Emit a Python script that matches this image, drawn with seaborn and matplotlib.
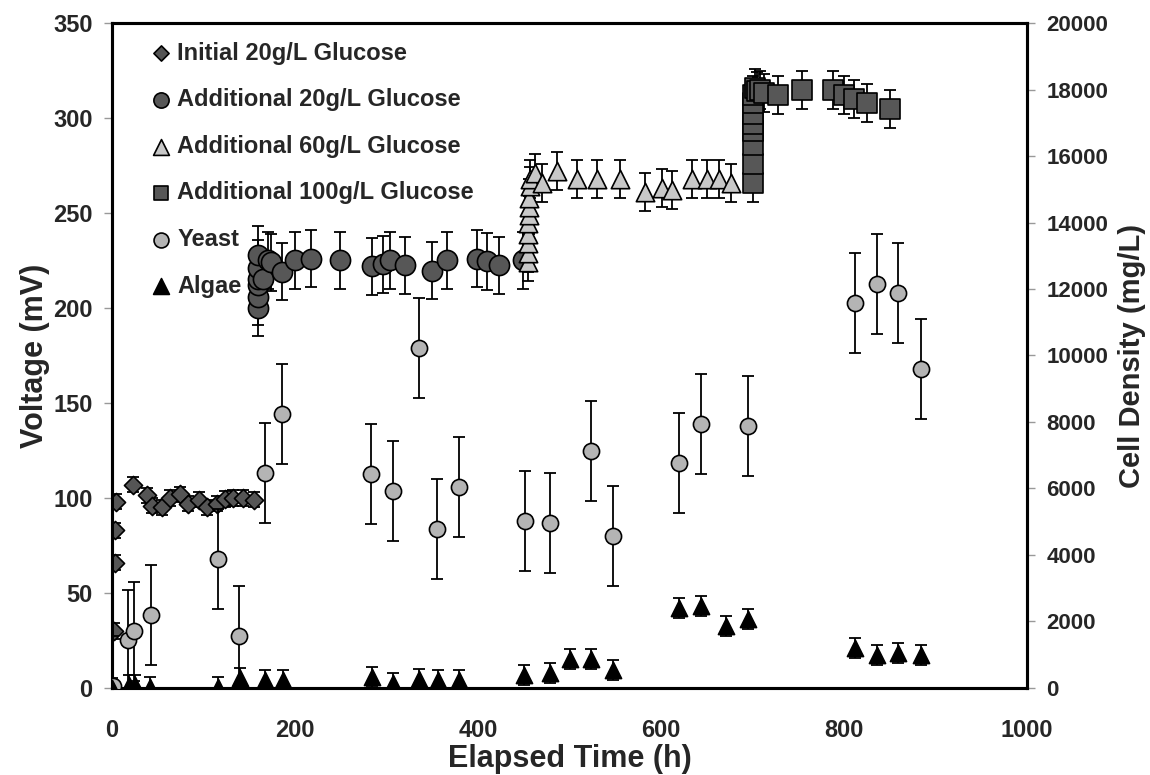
import numpy as np
import seaborn as sns
import matplotlib.pyplot as plt

# voltage series (mV) vs elapsed time (h)
init_t = [2, 3, 3, 4, 23, 38, 44, 55, 63, 74, 83, 95, 104, 115, 123, 132, 143, 155]
init_v = [30, 66, 83, 98, 107, 101.5, 96, 95, 100, 102, 97, 99, 95, 97, 99.5, 100, 100, 99]
init_err = 4

add20_t = [160, 160, 160, 160, 160, 160, 165, 170, 174, 186, 200, 217, 249, 284, 296, 304,
           320, 350, 366, 399, 410, 423, 449]
add20_v = [200, 206, 212, 215, 221, 228, 215, 225, 224, 219, 225, 226, 225, 222, 223, 225,
           222.5, 219.5, 225, 226, 224.5, 222.5, 225]
add20_err = 15

add60_t = [455, 455, 455, 455, 455, 456, 456, 456, 457, 457, 462, 470, 486, 508, 530, 555,
           582, 601, 612, 634, 650, 663, 676]
add60_v = [224, 229, 234, 239, 245, 249, 253, 258, 264, 268, 271, 266, 272, 268, 268, 268,
           261, 263, 262, 268, 268, 268, 266]
add60_err = 10

add100_t = [701, 701, 701, 701, 701, 701, 701, 701, 703, 705, 708, 712, 728, 754, 788, 800,
            811, 825, 850]
add100_v = [266, 276, 286, 293, 297, 302, 308, 312, 316, 314, 315, 313, 312, 315, 315, 312,
            310, 308, 305]
add100_err = 10

# cell density (mg/L)
yeast_t = [1, 17, 24, 43, 116, 139, 167, 186, 283, 307, 335, 355, 379, 451, 479, 523, 548,
           620, 644, 695, 812, 836, 859, 884]
yeast_d = [60, 1450, 1700, 2200, 3880, 1560, 6470, 8250, 6440, 5930, 10230, 4780, 6050, 5020,
           4960, 7130, 4580, 6770, 7940, 7880, 11580, 12150, 11880, 9600]
yeast_err = 1500

algae_t = [0, 19, 25, 42, 116, 140, 167, 187, 284, 307, 335, 356, 379, 450, 479, 500, 523,
           548, 620, 644, 671, 695, 812, 836, 859, 884]
algae_d = [0, 90, 90, 30, 40, 300, 240, 240, 330, 150, 270, 240, 240, 390, 450, 870, 870,
           540, 2400, 2460, 1860, 2070, 1200, 990, 1050, 990]
algae_err = 300

sns.set_style("white")
plt.rcParams['font.family'] = ['Liberation Sans', 'DejaVu Sans']
plt.rcParams['font.weight'] = 'bold'
plt.rcParams['axes.labelweight'] = 'bold'

fig = plt.figure(figsize=(11.5, 7.75), dpi=100)
ax = fig.add_axes([0.0974, 0.1123, 0.7957, 0.858])
ax2 = ax.twinx()

eb = dict(fmt='none', ecolor='black', elinewidth=1.3, capsize=4, capthick=1.3, zorder=2)
ax.errorbar(init_t, init_v, yerr=init_err, **eb)
ax.errorbar(add20_t, add20_v, yerr=add20_err, **eb)
ax.errorbar(add60_t, add60_v, yerr=add60_err, **eb)
ax.errorbar(add100_t, add100_v, yerr=add100_err, **eb)
ax2.errorbar(yeast_t, yeast_d, yerr=yeast_err, **eb)
ax2.errorbar(algae_t, algae_d, yerr=algae_err, **eb)

sc = dict(edgecolor='black', linewidth=1.2, zorder=3, legend=False)
sns.scatterplot(x=init_t, y=init_v, marker='D', s=85, color='#555555', ax=ax,
                label='Initial 20g/L Glucose', **sc)
sns.scatterplot(x=add20_t, y=add20_v, marker='o', s=210, color='#575757', ax=ax,
                label='Additional 20g/L Glucose', **sc)
sns.scatterplot(x=add60_t, y=add60_v, marker='^', s=175, color='#c8c8c8', ax=ax,
                label='Additional 60g/L Glucose', **sc)
sns.scatterplot(x=add100_t, y=add100_v, marker='s', s=190, color='#575757', ax=ax,
                label='Additional 100g/L Glucose', **sc)
sns.scatterplot(x=yeast_t, y=yeast_d, marker='o', s=135, color='#b4b4b4', ax=ax2,
                label='Yeast', **sc)
sns.scatterplot(x=algae_t, y=algae_d, marker='^', s=135, color='black', ax=ax2,
                label='Algae', **sc)

ax.set_xlim(0, 1000)
ax.set_ylim(0, 350)
ax2.set_ylim(0, 20000)
ax.set_xticks(range(0, 1001, 200))
ax.set_yticks(range(0, 351, 50))
ax2.set_yticks(range(0, 20001, 2000))

ax.set_xlabel('Elapsed Time (h)', fontsize=22, fontweight='bold', labelpad=2)
ax.set_ylabel('Voltage (mV)', fontsize=22, fontweight='bold')
ax2.set_ylabel('Cell Density (mg/L)', fontsize=21, fontweight='bold')
ax.yaxis.set_label_coords(-0.068, 0.5)
ax2.yaxis.set_label_coords(1.099, 0.5)

for a in (ax, ax2):
    for sp in a.spines.values():
        sp.set_linewidth(2.2)
        sp.set_color('black')
    a.tick_params(direction='out', length=6, width=1, color='#999999',
                  labelsize=17)
ax.tick_params(axis='x', pad=16)
ax.tick_params(axis='y', pad=8)
ax2.tick_params(axis='y', pad=8, labelsize=16)
ax.grid(False)
ax2.grid(False)

h1, l1 = ax.get_legend_handles_labels()
h2, l2 = ax2.get_legend_handles_labels()
leg = ax2.legend(h1 + h2, l1 + l2, loc='upper left', bbox_to_anchor=(0.043, 0.972),
                 frameon=False, fontsize=17, labelspacing=1.0,
                 handlelength=0.8, handletextpad=0.3, borderaxespad=0, borderpad=0)
for t in leg.get_texts():
    t.set_fontweight('bold')
for hnd, size in zip(leg.legend_handles, [60, 120, 130, 110, 115, 130]):
    hnd.set_sizes([size])

fig.savefig('out.png', dpi=100)
